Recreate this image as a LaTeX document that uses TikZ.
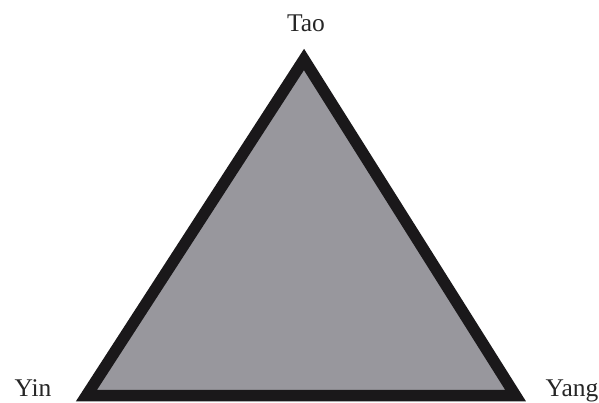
\documentclass[tikz,border=0pt]{standalone}
\usepackage{fontspec}
\setmainfont{Liberation Serif}
\definecolor{trifill}{RGB}{152,151,157}
\definecolor{triedge}{RGB}{26,24,26}
\begin{document}
\begin{tikzpicture}[x=1pt,y=-1pt,
  lbl/.style={font=\fontsize{25.5}{25.5}\selectfont, text=black!85, inner sep=0pt, anchor=base}]
\useasboundingbox (0,0) rectangle (599,403);
\coordinate (T) at (304,59.5);
\coordinate (L) at (86.5,395.5);
\coordinate (R) at (515.5,395.5);
\draw[fill=trifill, draw=triedge, line width=11.5pt, line join=miter] (T) -- (L) -- (R) -- cycle;
\node[lbl] (tao) at (306,31.5) {Tao};
\node[lbl] (yin) at (33,396) {Yin};
\node[lbl] (yang) at (572,396) {Yang};
\end{tikzpicture}
\end{document}
